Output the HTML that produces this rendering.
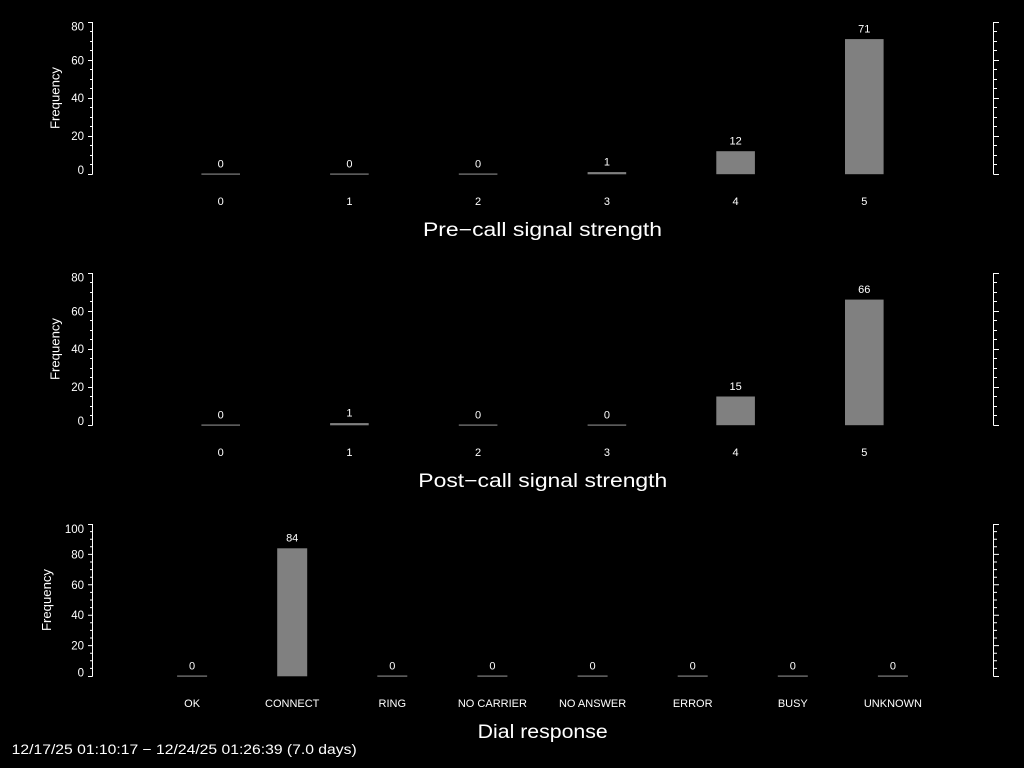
<!DOCTYPE html>
<html><head><meta charset="utf-8"><style>
html,body{margin:0;padding:0;background:#000;}
svg{display:block;}
text{font-family:"Liberation Sans",sans-serif;fill:#fff;}
</style></head><body>
<svg width="1024" height="768" viewBox="0 0 1024 768" xmlns="http://www.w3.org/2000/svg">
<rect width="1024" height="768" fill="#000"/>

<!-- ================= PANEL 1 ================= -->
<g stroke="#fff" stroke-width="1" fill="none">
<path d="M92.5 22V174.5M993.5 22V174.5"/>
<path d="M88 174.5H92.5M88 136.5H92.5M88 98.5H92.5M88 60.5H92.5M88 22.5H92.5
M90 164.5H92.5M90 155.5H92.5M90 145.5H92.5M90 126.5H92.5M90 117.5H92.5M90 107.5H92.5M90 88.5H92.5M90 79.5H92.5M90 69.5H92.5M90 50.5H92.5M90 41.5H92.5M90 31.5H92.5"/>
<path d="M993.5 174.5H999M993.5 136.5H999M993.5 98.5H999M993.5 60.5H999M993.5 22.5H999
M993.5 164.5H997M993.5 155.5H997M993.5 145.5H997M993.5 126.5H997M993.5 117.5H997M993.5 107.5H997M993.5 88.5H997M993.5 79.5H997M993.5 69.5H997M993.5 50.5H997M993.5 41.5H997M993.5 31.5H997"/>
</g>
<g font-size="11.5" text-anchor="end">
<text x="84" y="174">0</text>
<text x="84" y="140">20</text>
<text x="84" y="102">40</text>
<text x="84" y="64.5">60</text>
<text x="84" y="30.5">80</text>
</g>
<text x="59.5" y="98" font-size="12.5" text-anchor="middle" transform="rotate(-90 59.5 98)" textLength="62" lengthAdjust="spacingAndGlyphs">Frequency</text>
<g fill="#808080">
<rect x="201.4" y="173.5" width="38.6" height="1.2"/>
<rect x="330.1" y="173.5" width="38.6" height="1.2"/>
<rect x="458.8" y="173.5" width="38.6" height="1.2"/>
<rect x="587.6" y="172.1" width="38.6" height="2.2"/>
<rect x="716.3" y="151.2" width="38.6" height="23"/>
<rect x="845.0" y="39.1" width="38.6" height="135.1"/>
</g>
<g font-size="11" text-anchor="middle">
<text x="220.7" y="167.3">0</text>
<text x="349.4" y="167.3">0</text>
<text x="478.1" y="167.3">0</text>
<text x="606.9" y="165.6">1</text>
<text x="735.6" y="144.6">12</text>
<text x="864.3" y="32.4">71</text>
<text x="220.7" y="205">0</text>
<text x="349.4" y="205">1</text>
<text x="478.1" y="205">2</text>
<text x="606.9" y="205">3</text>
<text x="735.6" y="205">4</text>
<text x="864.3" y="205">5</text>
</g>
<text x="423" y="236" font-size="19" textLength="239" lengthAdjust="spacingAndGlyphs">Pre−call signal strength</text>

<!-- ================= PANEL 2 ================= -->
<g stroke="#fff" stroke-width="1" fill="none">
<path d="M92.5 273V425.5M993.5 273V425.5"/>
<path d="M88 425.5H92.5M88 387.5H92.5M88 349.5H92.5M88 311.5H92.5M88 273.5H92.5
M90 415.5H92.5M90 406.5H92.5M90 396.5H92.5M90 377.5H92.5M90 368.5H92.5M90 358.5H92.5M90 339.5H92.5M90 330.5H92.5M90 320.5H92.5M90 301.5H92.5M90 292.5H92.5M90 282.5H92.5"/>
<path d="M993.5 425.5H999M993.5 387.5H999M993.5 349.5H999M993.5 311.5H999M993.5 273.5H999
M993.5 415.5H997M993.5 406.5H997M993.5 396.5H997M993.5 377.5H997M993.5 368.5H997M993.5 358.5H997M993.5 339.5H997M993.5 330.5H997M993.5 320.5H997M993.5 301.5H997M993.5 292.5H997M993.5 282.5H997"/>
</g>
<g font-size="11.5" text-anchor="end">
<text x="84" y="425">0</text>
<text x="84" y="391">20</text>
<text x="84" y="353">40</text>
<text x="84" y="315.5">60</text>
<text x="84" y="281.5">80</text>
</g>
<text x="59.5" y="349" font-size="12.5" text-anchor="middle" transform="rotate(-90 59.5 349)" textLength="62" lengthAdjust="spacingAndGlyphs">Frequency</text>
<g fill="#808080">
<rect x="201.4" y="424.5" width="38.6" height="1.2"/>
<rect x="330.1" y="423.1" width="38.6" height="2.2"/>
<rect x="458.8" y="424.5" width="38.6" height="1.2"/>
<rect x="587.6" y="424.5" width="38.6" height="1.2"/>
<rect x="716.3" y="396.5" width="38.6" height="28.7"/>
<rect x="845.0" y="299.6" width="38.6" height="125.6"/>
</g>
<g font-size="11" text-anchor="middle">
<text x="220.7" y="418.3">0</text>
<text x="349.4" y="416.5">1</text>
<text x="478.1" y="418.3">0</text>
<text x="606.9" y="418.3">0</text>
<text x="735.6" y="389.9">15</text>
<text x="864.3" y="293">66</text>
<text x="220.7" y="456">0</text>
<text x="349.4" y="456">1</text>
<text x="478.1" y="456">2</text>
<text x="606.9" y="456">3</text>
<text x="735.6" y="456">4</text>
<text x="864.3" y="456">5</text>
</g>
<text x="418.3" y="487" font-size="19" textLength="249" lengthAdjust="spacingAndGlyphs">Post−call signal strength</text>

<!-- ================= PANEL 3 ================= -->
<g stroke="#fff" stroke-width="1" fill="none">
<path d="M92.5 524V676.5M993.5 524V676.5"/>
<path d="M88 676.5H92.5M88 645.6H92.5M88 615.2H92.5M88 584.8H92.5M88 554.4H92.5M88 524.5H92.5
M90 668.4H92.5M90 660.8H92.5M90 653.2H92.5M90 638H92.5M90 630.4H92.5M90 622.8H92.5M90 607.6H92.5M90 600H92.5M90 592.4H92.5M90 577.2H92.5M90 569.6H92.5M90 562H92.5M90 546.8H92.5M90 539.2H92.5M90 531.6H92.5"/>
<path d="M993.5 676.5H999M993.5 645.6H999M993.5 615.2H999M993.5 584.8H999M993.5 554.4H999M993.5 524.5H999
M993.5 668.4H997M993.5 660.8H997M993.5 653.2H997M993.5 638H997M993.5 630.4H997M993.5 622.8H997M993.5 607.6H997M993.5 600H997M993.5 592.4H997M993.5 577.2H997M993.5 569.6H997M993.5 562H997M993.5 546.8H997M993.5 539.2H997M993.5 531.6H997"/>
</g>
<g font-size="11.5" text-anchor="end">
<text x="84" y="676.3">0</text>
<text x="84" y="649.6">20</text>
<text x="84" y="619.2">40</text>
<text x="84" y="588.8">60</text>
<text x="84" y="558.4">80</text>
<text x="84" y="533">100</text>
</g>
<text x="51" y="600" font-size="12.5" text-anchor="middle" transform="rotate(-90 51 600)" textLength="62" lengthAdjust="spacingAndGlyphs">Frequency</text>
<g fill="#808080">
<rect x="177.1" y="675.5" width="30" height="1.2"/>
<rect x="277.2" y="548.3" width="30" height="128"/>
<rect x="377.3" y="675.5" width="30" height="1.2"/>
<rect x="477.4" y="675.5" width="30" height="1.2"/>
<rect x="577.6" y="675.5" width="30" height="1.2"/>
<rect x="677.7" y="675.5" width="30" height="1.2"/>
<rect x="777.8" y="675.5" width="30" height="1.2"/>
<rect x="877.9" y="675.5" width="30" height="1.2"/>
</g>
<g font-size="11" text-anchor="middle">
<text x="192.1" y="669.3">0</text>
<text x="292.2" y="541.6">84</text>
<text x="392.3" y="669.3">0</text>
<text x="492.4" y="669.3">0</text>
<text x="592.6" y="669.3">0</text>
<text x="692.7" y="669.3">0</text>
<text x="792.8" y="669.3">0</text>
<text x="892.9" y="669.3">0</text>
<text x="192.1" y="707">OK</text>
<text x="292.2" y="707">CONNECT</text>
<text x="392.3" y="707">RING</text>
<text x="492.4" y="707">NO CARRIER</text>
<text x="592.6" y="707">NO ANSWER</text>
<text x="692.7" y="707">ERROR</text>
<text x="792.8" y="707">BUSY</text>
<text x="892.9" y="707">UNKNOWN</text>
</g>
<text x="477.7" y="738" font-size="19" textLength="130" lengthAdjust="spacingAndGlyphs">Dial response</text>

<!-- footer -->
<text x="11.7" y="754" font-size="13.5" textLength="345" lengthAdjust="spacingAndGlyphs">12/17/25 01:10:17 − 12/24/25 01:26:39 (7.0 days)</text>
</svg>
</body></html>
